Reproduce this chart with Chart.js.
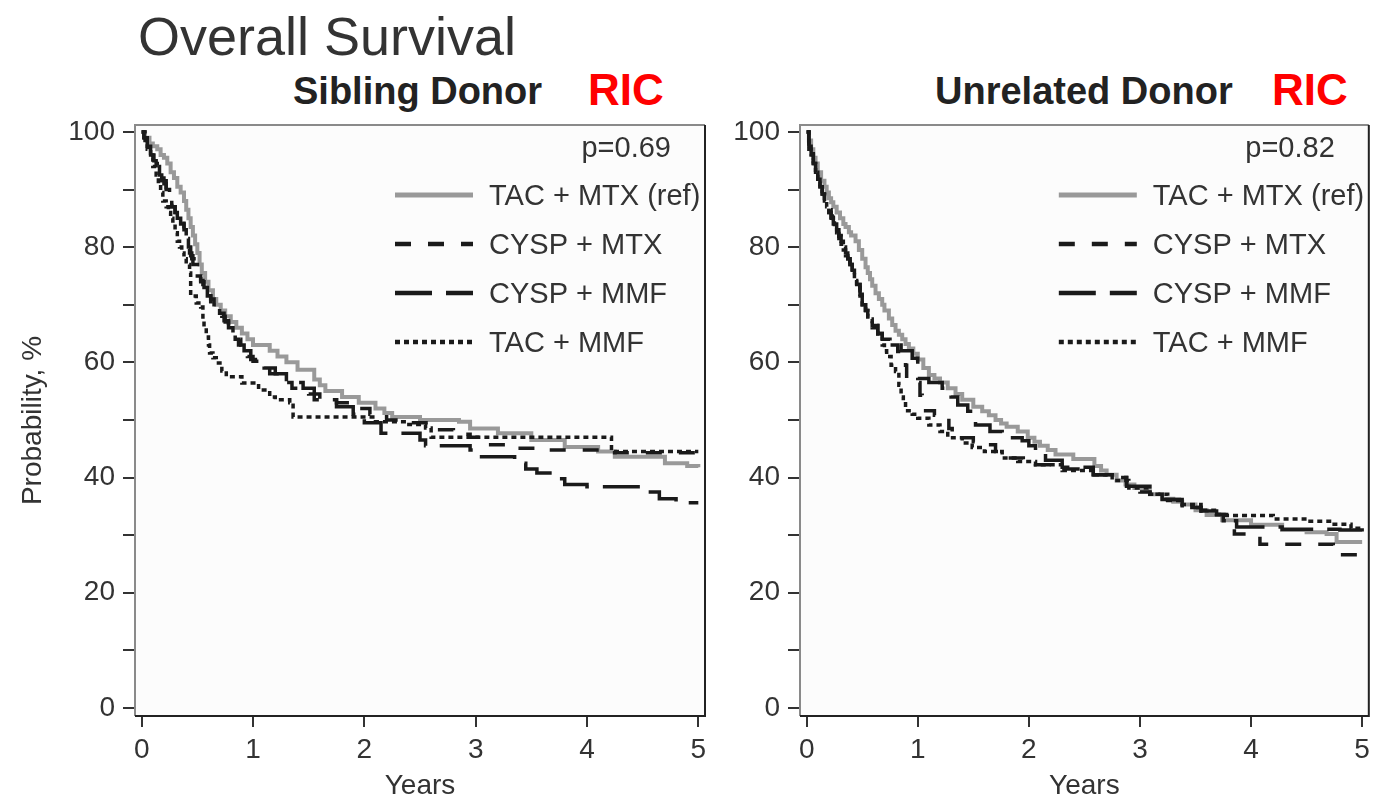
<!DOCTYPE html>
<html>
<head>
<meta charset="utf-8">
<title>Overall Survival</title>
<script src="https://cdn.jsdelivr.net/npm/chart.js@4.4.0/dist/chart.umd.min.js"></script>
<style>
  body { margin: 0; width: 1376px; height: 800px; background: #fff; position: relative; overflow: hidden;
         font-family: 'Liberation Sans', Arial, sans-serif; }
  .t { position: absolute; line-height: 1; white-space: nowrap; }
  canvas { position: absolute; top: 0; }
</style>
</head>
<body>
<div class="t" style="left:138px;top:9px;font-size:54px;color:#333">Overall Survival</div>
<div class="t" style="left:293px;top:72px;font-size:38px;font-weight:bold;color:#222">Sibling Donor</div>
<div class="t" style="left:588px;top:68px;font-size:44px;font-weight:bold;color:#f00">RIC</div>
<div class="t" style="left:935px;top:72px;font-size:38px;font-weight:bold;color:#222">Unrelated Donor</div>
<div class="t" style="left:1272px;top:68px;font-size:44px;font-weight:bold;color:#f00">RIC</div>
<canvas id="sib" width="715" height="800" style="left:0"></canvas>
<canvas id="unrel" width="661" height="800" style="left:715px"></canvas>
<script>
// séries: [anos, probabilidade %]
const seriesNames = ['TAC + MTX (ref)', 'CYSP + MTX', 'CYSP + MMF', 'TAC + MMF'];
const xTicks = [0, 1, 2, 3, 4, 5];
const yTicks = [0, 10, 20, 30, 40, 50, 60, 70, 80, 90, 100];
const pSibling = 'p=0.69';
const pUnrelated = 'p=0.82';

// Sibling donor
const sibTacMtx = [[0,100],[0.03,99],[0.07,98],[0.1,97.5],[0.14,97],[0.17,96],[0.2,95.5],[0.23,94.5],[0.26,93],[0.29,92],
  [0.32,90.5],[0.35,89.5],[0.38,88],[0.4,86.5],[0.42,85],[0.44,83.5],[0.46,82],[0.48,80.5],[0.5,79],[0.52,77],[0.54,75.5],
  [0.57,74],[0.6,72.5],[0.64,71],[0.67,70],[0.71,69],[0.75,68],[0.8,67],[0.85,66],[0.9,65],[0.95,64],[1.0,63],[1.15,62],
  [1.22,61],[1.3,60],[1.4,58.7],[1.55,57],[1.6,56],[1.65,55],[1.8,54],[1.95,53],[2.1,52],[2.18,51.2],[2.25,50.5],[2.5,50],
  [2.85,49.7],[2.95,48.5],[3.2,47.7],[3.5,46.5],[3.8,45.3],[4.1,44.5],[4.25,43.6],[4.7,42.5],[4.9,42],[5.0,41.8]];
const sibCyspMtx = [[0,100],[0.02,99],[0.05,97.5],[0.08,96],[0.11,95],[0.13,94.5],[0.16,93],[0.18,92],[0.2,91],[0.22,90],
  [0.25,88.5],[0.27,87],[0.3,86],[0.33,85.3],[0.35,84.5],[0.38,83],[0.4,82],[0.42,80.5],[0.43,79],[0.45,78],[0.47,77],
  [0.5,75],[0.53,74.2],[0.55,73.5],[0.59,72],[0.62,71],[0.65,70],[0.68,69],[0.72,68],[0.75,67],[0.78,66],[0.8,65],[0.84,64],
  [0.87,63],[0.91,62],[0.95,61],[1.0,60.2],[1.05,59.5],[1.15,58],[1.25,56.5],[1.35,55.5],[1.5,54.5],[1.6,53.5],[1.75,53],
  [1.9,52],[2.05,51],[2.2,50],[2.4,49.5],[2.6,48.3],[2.8,47.5],[2.95,47],[3.1,45.7],[3.35,45.1],[3.65,44.8],[4.2,44.3],
  [5.0,44.3]];
const sibCyspMmf = [[0,100],[0.02,99],[0.05,97.5],[0.08,96],[0.1,95],[0.13,94],[0.16,92.5],[0.18,91.5],[0.22,90],[0.25,88.5],
  [0.27,87],[0.3,86],[0.32,85],[0.35,84],[0.38,83],[0.4,81.5],[0.42,80],[0.44,78.5],[0.46,77],[0.5,75],[0.53,74],[0.56,73],
  [0.59,71.5],[0.62,70.5],[0.66,69.5],[0.7,68.5],[0.74,67.2],[0.78,66],[0.82,65],[0.85,64],[0.89,63],[0.92,62],[0.98,60.5],
  [1.1,59],[1.2,58],[1.3,56.5],[1.45,55.5],[1.55,53.5],[1.75,52.3],[1.9,51],[2.0,49.5],[2.15,47.7],[2.5,46.5],[2.55,45.5],
  [2.95,44.8],[3.0,43.6],[3.35,42.5],[3.45,41.5],[3.55,40.8],[3.7,39.8],[3.8,38.8],[4.0,38.4],[4.55,37.5],[4.65,36.3],
  [4.8,35.6],[5.0,35.6]];
const sibTacMmf = [[0,100],[0.03,98.5],[0.05,97],[0.08,95.5],[0.1,94],[0.13,92.5],[0.15,91],[0.17,89.5],[0.19,88],[0.22,87],
  [0.24,86],[0.26,85],[0.28,84],[0.3,82.5],[0.32,81],[0.34,80],[0.36,79],[0.38,78],[0.4,77],[0.43,75.5],[0.44,71.5],
  [0.49,70.3],[0.53,69.6],[0.55,67.5],[0.56,66],[0.58,64.4],[0.6,63],[0.61,61.6],[0.64,60.8],[0.67,59.9],[0.72,58.5],
  [0.76,57.5],[0.9,56.4],[1.05,55.2],[1.15,54],[1.2,53.5],[1.33,53],[1.36,50.5],[2.0,50.5],[2.1,49.7],[2.4,49.2],
  [2.55,48.6],[2.6,47],[4.18,47],[4.22,44.5],[5.0,44.5]];

// Unrelated donor
const unrTacMtx = [[0,100],[0.02,98.5],[0.04,97],[0.06,95.5],[0.08,94.5],[0.1,93],[0.13,91.5],[0.16,90.5],[0.18,89.5],
  [0.2,88.5],[0.22,87.8],[0.24,87],[0.27,86],[0.3,85],[0.33,84],[0.35,83.5],[0.38,82.6],[0.4,82],[0.44,81],[0.47,79.5],
  [0.5,78],[0.53,76.5],[0.55,75.5],[0.57,74.4],[0.59,73.3],[0.62,72],[0.65,71],[0.68,70],[0.7,69],[0.74,67.6],[0.77,66.5],
  [0.8,65.5],[0.83,64.8],[0.86,64],[0.89,63.2],[0.92,62.4],[0.96,61.5],[1.0,60.5],[1.05,59],[1.1,57.8],[1.15,57.2],
  [1.2,56.5],[1.27,55.5],[1.34,54.5],[1.4,53.5],[1.5,52.3],[1.58,51.5],[1.64,50.8],[1.7,50],[1.75,49.4],[1.8,48.8],
  [1.9,48],[1.99,46.9],[2.05,46.2],[2.1,45.5],[2.17,44.8],[2.24,44],[2.4,43.2],[2.59,42],[2.65,41.2],[2.7,40.5],[2.79,39.5],
  [2.87,38.8],[2.95,38.2],[3.02,37.6],[3.09,37.1],[3.2,36.3],[3.3,35.8],[3.38,35.3],[3.5,34.3],[3.6,33.5],[3.74,32.6],
  [4.0,31.8],[4.28,30.9],[4.5,30.5],[4.68,30.2],[4.77,28.8],[5.0,28.8]];
const unrCyspMtx = [[0,100],[0.02,97],[0.04,96],[0.06,94.5],[0.08,93],[0.1,91.8],[0.12,90.5],[0.14,89.2],[0.16,88],[0.18,87],
  [0.2,86],[0.22,85],[0.24,84],[0.27,83],[0.29,81.9],[0.31,81],[0.33,80],[0.35,79],[0.37,78],[0.39,77],[0.41,76.2],
  [0.43,74.8],[0.45,73.5],[0.48,71.8],[0.5,70],[0.53,69],[0.55,68],[0.57,67.2],[0.59,66.4],[0.64,65],[0.68,64],[0.75,63],
  [0.82,61.9],[0.86,60.7],[0.89,59.5],[0.9,57.2],[0.98,56.5],[1.02,54.3],[1.04,51.6],[1.15,50.8],[1.19,50.3],[1.28,48.5],
  [1.31,46.9],[1.5,46.2],[1.58,45.7],[1.7,44.5],[1.76,43.4],[1.95,42.8],[2.06,42.2],[2.3,41.5],[2.58,40.5],[2.75,40],
  [2.88,38],[3.0,37.5],[3.09,37.1],[3.2,36.2],[3.38,34.8],[3.55,34.2],[3.69,33.6],[3.75,32.5],[3.82,31.5],[3.85,30.2],
  [4.05,30.2],[4.08,28.4],[4.72,28.4],[4.74,26.6],[5.0,26.6]];
const unrCyspMmf = [[0,100],[0.02,97.5],[0.04,96.2],[0.06,94.8],[0.08,93],[0.1,91.8],[0.12,90.5],[0.14,89.2],[0.16,88],
  [0.18,87.2],[0.2,86.5],[0.22,85.2],[0.24,84],[0.27,83],[0.29,82],[0.31,81],[0.33,80],[0.35,79],[0.37,78],[0.39,77],
  [0.41,76],[0.43,74.8],[0.45,73.5],[0.48,71.8],[0.5,70],[0.53,69],[0.55,68],[0.57,67.2],[0.59,66.4],[0.64,65],[0.68,64],
  [0.75,63],[0.85,62],[0.95,60.7],[1.0,57.2],[1.1,56.5],[1.22,55.5],[1.3,54],[1.36,52.6],[1.45,51.5],[1.52,49.1],[1.65,48],
  [1.76,46.9],[1.94,46.4],[2.0,45.5],[2.06,44.7],[2.15,43],[2.3,41.8],[2.58,40.5],[2.75,40],[2.88,38.5],[3.09,37.1],
  [3.2,36.2],[3.38,34.8],[3.55,34.2],[3.69,33.6],[3.8,32.5],[3.87,31.4],[4.2,31.4],[4.28,31.0],[4.7,31.0],[4.8,30.9],
  [5.0,30.5]];
const unrTacMmf = [[0,100],[0.02,97],[0.04,96],[0.06,94.5],[0.08,93],[0.1,91.5],[0.12,90],[0.14,89],[0.16,88],[0.18,87],
  [0.2,86],[0.23,84.8],[0.25,83.5],[0.27,82.5],[0.29,81.5],[0.31,80.5],[0.33,79.5],[0.35,78.5],[0.37,77.5],[0.39,76.5],
  [0.41,75.5],[0.43,74.2],[0.45,73],[0.48,71.5],[0.5,70],[0.53,68.7],[0.55,67.5],[0.59,66],[0.64,64.5],[0.68,63],[0.7,62],
  [0.72,61],[0.76,59.5],[0.8,58.4],[0.83,56],[0.85,54],[0.87,52.8],[0.89,51.6],[0.95,51],[1.0,50.3],[1.1,49.1],[1.2,48],
  [1.27,46.9],[1.4,46],[1.49,45.2],[1.6,44.5],[1.76,43.4],[1.9,42.8],[2.06,42.2],[2.3,41.2],[2.59,40.5],[2.75,39.5],
  [2.9,38.2],[3.09,37.1],[3.25,36],[3.38,35.3],[3.55,34.3],[3.69,33.6],[3.78,33.4],[4.2,32.8],[4.5,32.4],[4.73,31.9],
  [4.9,31.2],[5.0,30.9]];

Chart.defaults.font.family = "'Liberation Sans', Arial, sans-serif";
Chart.defaults.color = '#333';

// estilos das curvas (cinza sólido, tracejado curto, tracejado longo, pontilhado)
const lineStyles = [
  { borderColor: '#999', borderWidth: 4, borderDash: [], order: 4 },
  { borderColor: '#1a1a1a', borderWidth: 3.5, borderDash: [16, 17], order: 2 },
  { borderColor: '#1a1a1a', borderWidth: 3.5, borderDash: [37, 14], order: 1 },
  { borderColor: '#1a1a1a', borderWidth: 3.5, borderDash: [5, 4], order: 3 }
];

function buildDatasets(list) {
  return list.map((pts, i) => Object.assign({
    label: seriesNames[i],
    data: pts.map(p => ({ x: p[0], y: p[1] })),
    stepped: true,
    pointRadius: 0,
    fill: false
  }, lineStyles[i]));
}

// moldura, fundo e legenda dentro da área do gráfico
const panelDecor = {
  id: 'panelDecor',
  beforeDatasetsDraw(chart) {
    const { ctx, chartArea: a } = chart;
    ctx.save();
    ctx.fillStyle = '#fcfcfc';
    ctx.fillRect(a.left, a.top, a.right - a.left, a.bottom - a.top);
    ctx.restore();
  },
  afterDraw(chart, args, opts) {
    const { ctx, chartArea: a } = chart;
    ctx.save();
    ctx.lineWidth = 2;
    ctx.strokeStyle = '#8a8a8a';
    ctx.beginPath();
    ctx.moveTo(a.left, a.bottom); ctx.lineTo(a.left, a.top); ctx.lineTo(a.right, a.top);
    ctx.stroke();
    ctx.strokeStyle = '#222';
    ctx.beginPath();
    ctx.moveTo(a.right, a.top); ctx.lineTo(a.right, a.bottom); ctx.lineTo(a.left, a.bottom);
    ctx.stroke();

    ctx.font = "29px 'Liberation Sans', Arial, sans-serif";
    ctx.fillStyle = '#333';
    ctx.textBaseline = 'middle';
    ctx.textAlign = 'right';
    ctx.fillText(opts.pText, a.right - 34, a.top + 24);
    ctx.textAlign = 'left';
    chart.data.datasets.forEach((ds, i) => {
      const y = a.top + 70 + i * 49;
      ctx.strokeStyle = ds.borderColor;
      ctx.lineWidth = ds.borderWidth + 1;
      ctx.setLineDash(ds.borderDash);
      ctx.beginPath();
      ctx.moveTo(a.right - 310, y);
      ctx.lineTo(a.right - 232, y);
      ctx.stroke();
      ctx.setLineDash([]);
      ctx.fillText(ds.label, a.right - 216, y + 2);
    });
    ctx.restore();
  }
};

function makeChart(id, list, pText, yWidth, padRight, showYTitle) {
  return new Chart(document.getElementById(id), {
    type: 'line',
    data: { datasets: buildDatasets(list) },
    plugins: [panelDecor],
    options: {
      responsive: false,
      animation: false,
      layout: { padding: { top: 125, right: padRight, left: 0, bottom: 0 } },
      plugins: {
        legend: { display: false },
        tooltip: { enabled: false },
        panelDecor: { pText: pText }
      },
      scales: {
        x: {
          type: 'linear', min: -0.06, max: 5.06,
          afterBuildTicks: s => { s.ticks = xTicks.map(v => ({ value: v })); },
          afterFit: s => { s.height = 84; },
          grid: { drawOnChartArea: false, tickLength: 11, color: '#333', lineWidth: 2 },
          border: { display: false },
          ticks: { font: { size: 28 }, padding: 6, maxRotation: 0, autoSkip: false },
          title: { display: true, text: 'Years', font: { size: 28, lineHeight: 1 }, padding: { top: 0, bottom: 0 } }
        },
        y: {
          type: 'linear', min: -1.4, max: 101.2,
          afterBuildTicks: s => { s.ticks = yTicks.map(v => ({ value: v })); },
          afterFit: s => { s.width = yWidth; },
          grid: { drawOnChartArea: false, tickLength: 12, color: '#333', lineWidth: 2 },
          border: { display: false },
          ticks: { font: { size: 28 }, padding: 8, autoSkip: false, callback: v => (v % 20 === 0 ? v : '') },
          title: { display: showYTitle, text: 'Probability, %', font: { size: 28, lineHeight: 1.2 }, padding: { top: 16, bottom: 0 } }
        }
      }
    }
  });
}

makeChart('sib', [sibTacMtx, sibCyspMtx, sibCyspMmf, sibTacMmf], pSibling, 135, 10, true);
makeChart('unrel', [unrTacMtx, unrCyspMtx, unrCyspMmf, unrTacMmf], pUnrelated, 85, 6, false);
</script>
</body>
</html>
